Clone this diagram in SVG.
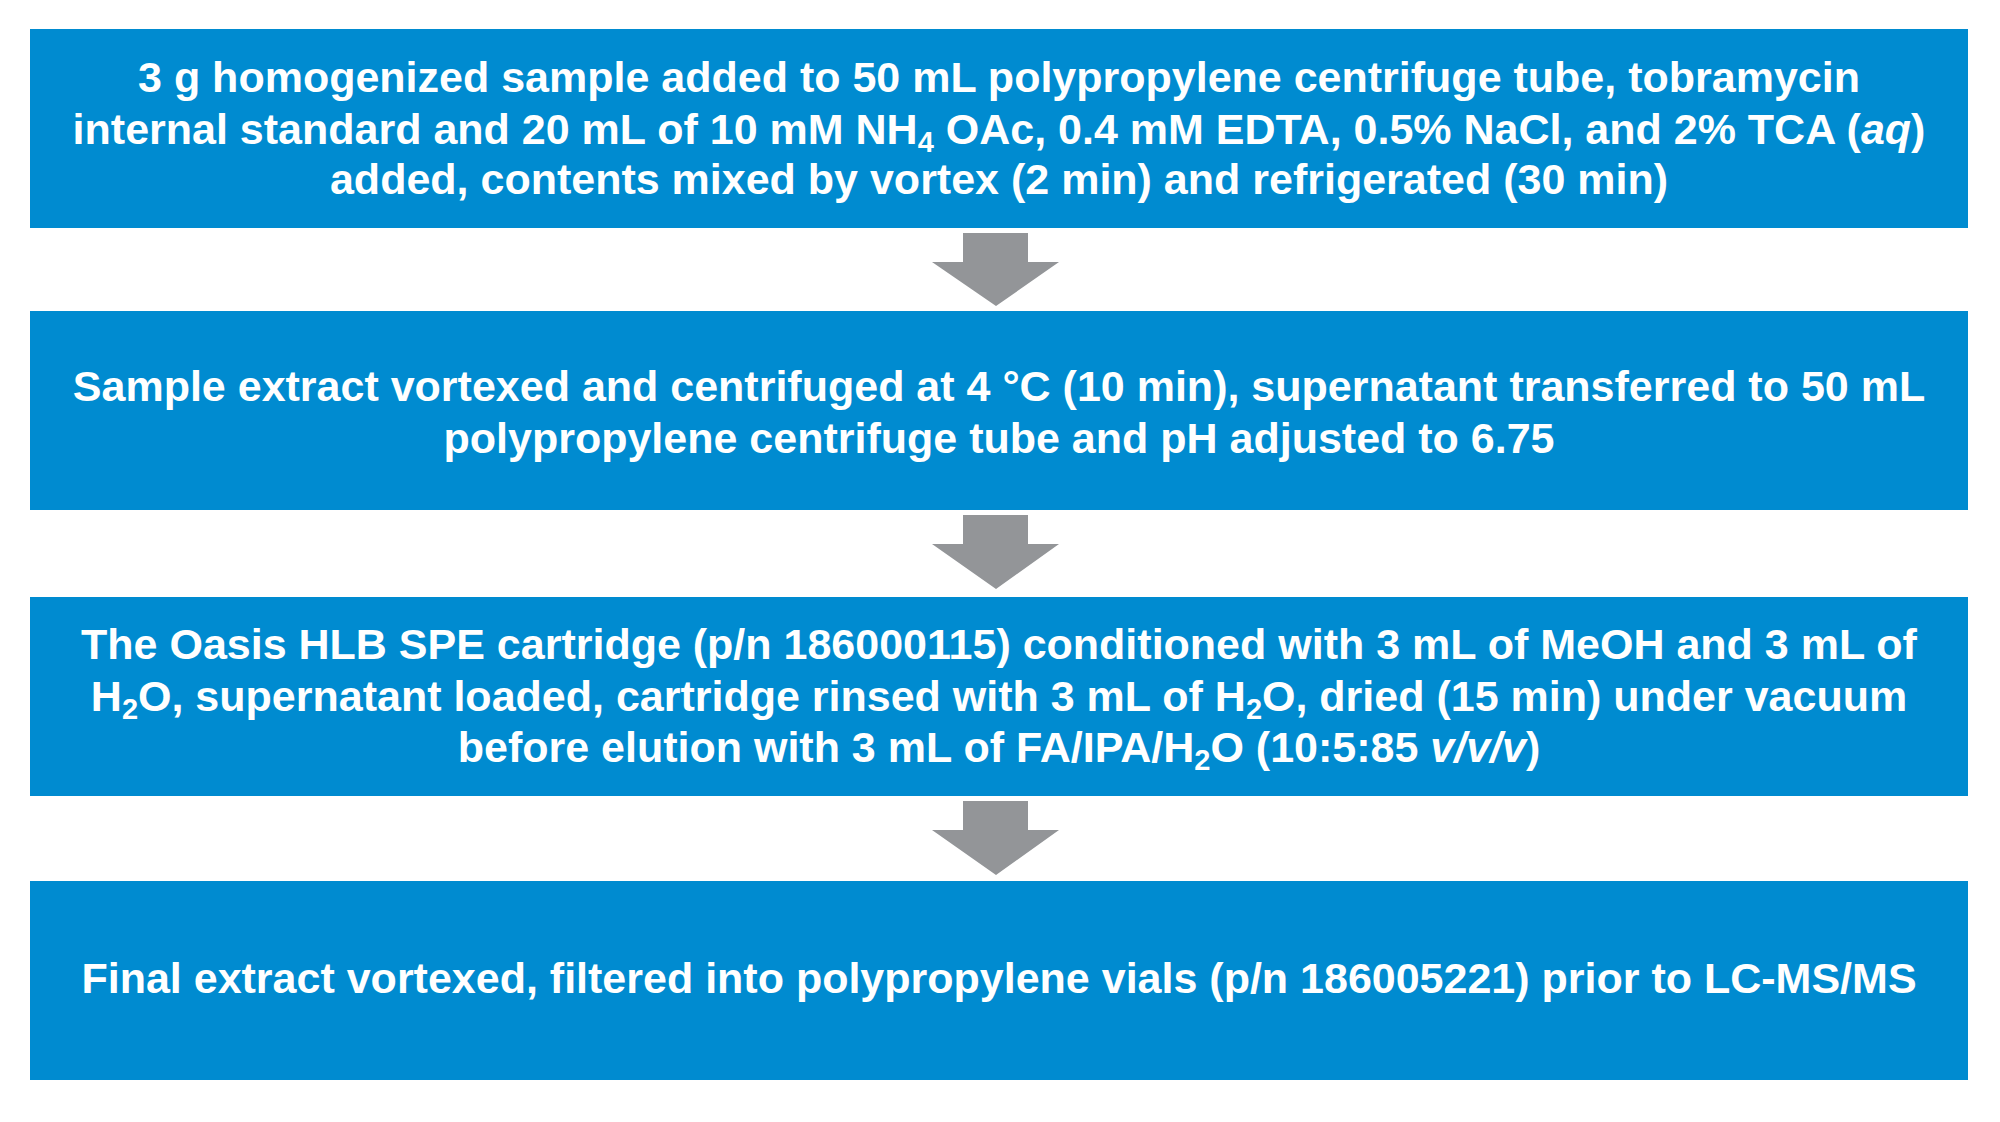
<svg xmlns="http://www.w3.org/2000/svg" width="2000" height="1122" viewBox="0 0 2000 1122">
<style>
.box{fill:#008BD0;}
.arr{fill:#939598;}
.t{font-family:"Liberation Sans",Arial,sans-serif;font-weight:bold;font-size:43px;fill:#FFFFFF;text-anchor:middle;}
.i{font-style:italic;}
.s{font-size:29px;}
</style>
<rect width="2000" height="1122" fill="#FFFFFF"/>
<g id="connectors">
<polygon class="arr" points="963,233 1028,233 1028,262 1059,262 996,306 932,262 963,262"/>
<polygon class="arr" points="963,515 1028,515 1028,544 1059,544 996,589 932,544 963,544"/>
<polygon class="arr" points="963,801 1028,801 1028,830 1059,830 996,875 932,830 963,830"/>
</g>
<g id="step1">
<rect class="box" x="30" y="29" width="1938" height="199"/>
<text class="t" x="999" y="92">3 g homogenized sample added to 50 mL polypropylene centrifuge tube, tobramycin</text>
<text class="t" x="999" y="144">internal standard and 20 mL of 10 mM NH<tspan class="s" dy="8">4</tspan><tspan dy="-8"> OAc, 0.4 mM EDTA, 0.5% NaCl, and 2% TCA (</tspan><tspan class="i">aq</tspan>)</text>
<text class="t" x="999" y="194">added, contents mixed by vortex (2 min) and refrigerated (30 min)</text>
</g>
<g id="step2">
<rect class="box" x="30" y="311" width="1938" height="199"/>
<text class="t" x="999" y="401">Sample extract vortexed and centrifuged at 4 °C (10 min), supernatant transferred to 50 mL</text>
<text class="t" x="999" y="453">polypropylene centrifuge tube and pH adjusted to 6.75</text>
</g>
<g id="step3">
<rect class="box" x="30" y="597" width="1938" height="199"/>
<text class="t" x="999" y="659">The Oasis HLB SPE cartridge (p/n 186000115) conditioned with 3 mL of MeOH and 3 mL of</text>
<text class="t" x="999" y="711">H<tspan class="s" dy="8">2</tspan><tspan dy="-8">O, supernatant loaded, cartridge rinsed with 3 mL of H</tspan><tspan class="s" dy="8">2</tspan><tspan dy="-8">O, dried (15 min) under vacuum</tspan></text>
<text class="t" x="999" y="762">before elution with 3 mL of FA/IPA/H<tspan class="s" dy="8">2</tspan><tspan dy="-8">O (10:5:85 </tspan><tspan class="i">v/v/v</tspan>)</text>
</g>
<g id="step4">
<rect class="box" x="30" y="881" width="1938" height="199"/>
<text class="t" x="999" y="993">Final extract vortexed, filtered into polypropylene vials (p/n 186005221) prior to LC-MS/MS</text>
</g>
</svg>
